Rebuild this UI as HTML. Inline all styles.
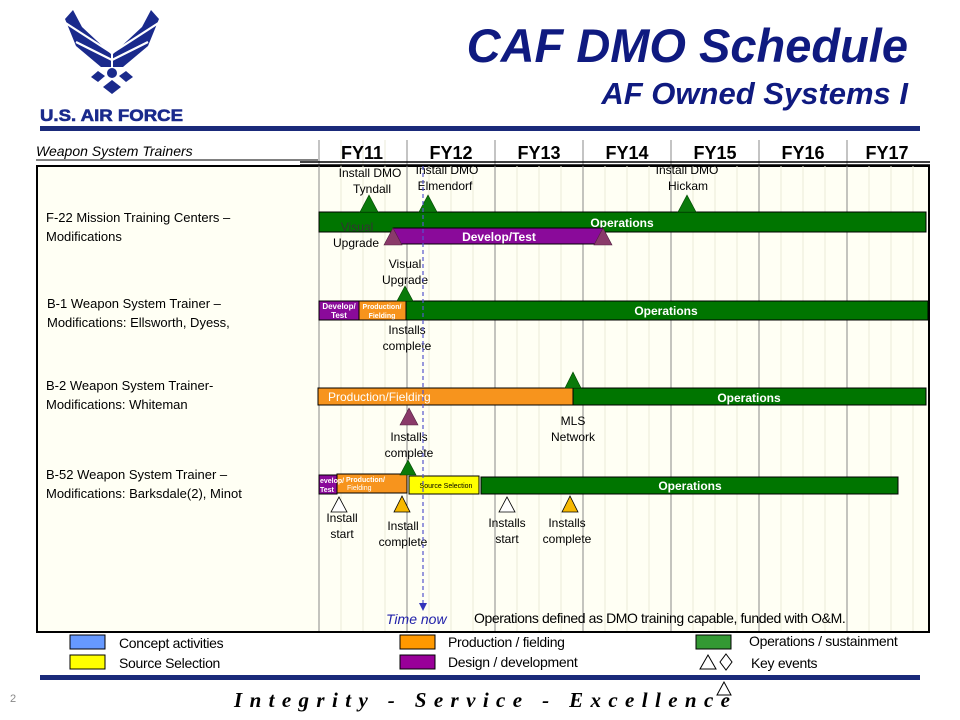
<!DOCTYPE html>
<html><head><meta charset="utf-8"><style>
html,body{margin:0;padding:0;background:#fff;}
svg{display:block;font-family:"Liberation Sans",Arial,sans-serif;}
</style></head><body>
<svg width="960" height="720" viewBox="0 0 960 720" xmlns="http://www.w3.org/2000/svg">
<rect width="960" height="720" fill="#fff"/>
<!-- logo -->
<g fill="#1a2a8c">
<polygon points="65,19 73,10 82,27 111,54 111,67 101,67 76,46"/>
<polygon points="159,19 151,10 142,27 113,54 113,67 123,67 148,46"/>
<circle cx="112" cy="73" r="5"/>
<polygon points="98,71 105,76 98,82 91,77"/>
<polygon points="126,71 133,77 126,82 119,76"/>
<polygon points="112,80 121,87 112,94 103,87"/>
</g>
<g stroke="#fff" stroke-width="2.2">
<line x1="64" y1="22" x2="112" y2="53"/><line x1="76" y1="42" x2="112" y2="60"/>
<line x1="160" y1="22" x2="112" y2="53"/><line x1="148" y1="42" x2="112" y2="60"/>
</g>
<text x="40" y="121" font-size="17" font-weight="bold" fill="#1a2a8c" stroke="#1a2a8c" stroke-width="0.6" textLength="143" lengthAdjust="spacingAndGlyphs">U.S. AIR FORCE</text>
<text x="908" y="62" text-anchor="end" font-size="47" font-weight="bold" font-style="italic" fill="#0f1a80">CAF DMO Schedule</text>
<text x="908" y="104" text-anchor="end" font-size="31" font-weight="bold" font-style="italic" fill="#0f1a80">AF Owned Systems I</text>
<rect x="40" y="126" width="880" height="5" fill="#1a2a7a"/>
<text x="36" y="156" font-size="14" font-style="italic" fill="#000">Weapon System Trainers</text>
<line x1="36" y1="160" x2="318" y2="160" stroke="#000" stroke-width="1"/>
<!-- chart box -->
<rect x="37" y="166" width="892" height="466" fill="#fffff4" stroke="#000" stroke-width="2"/>
<g stroke="#ebebd8" stroke-width="1">
<line x1="341" y1="140" x2="341" y2="631"/><line x1="363" y1="140" x2="363" y2="631"/><line x1="385" y1="140" x2="385" y2="631"/>
<line x1="429" y1="166" x2="429" y2="631"/><line x1="451" y1="166" x2="451" y2="631"/><line x1="473" y1="166" x2="473" y2="631"/>
<line x1="517" y1="166" x2="517" y2="631"/><line x1="539" y1="166" x2="539" y2="631"/><line x1="561" y1="166" x2="561" y2="631"/>
<line x1="605" y1="166" x2="605" y2="631"/><line x1="627" y1="166" x2="627" y2="631"/><line x1="649" y1="166" x2="649" y2="631"/>
<line x1="693" y1="166" x2="693" y2="631"/><line x1="715" y1="166" x2="715" y2="631"/><line x1="737" y1="166" x2="737" y2="631"/>
<line x1="781" y1="166" x2="781" y2="631"/><line x1="803" y1="166" x2="803" y2="631"/><line x1="825" y1="166" x2="825" y2="631"/>
<line x1="869" y1="166" x2="869" y2="631"/><line x1="891" y1="166" x2="891" y2="631"/><line x1="913" y1="166" x2="913" y2="631"/>
</g>
<g stroke="#888" stroke-width="1">
<line x1="319" y1="140" x2="319" y2="631"/><line x1="407" y1="140" x2="407" y2="631"/><line x1="495" y1="140" x2="495" y2="631"/>
<line x1="583" y1="140" x2="583" y2="631"/><line x1="671" y1="140" x2="671" y2="631"/><line x1="759" y1="140" x2="759" y2="631"/>
<line x1="847" y1="140" x2="847" y2="631"/>
</g>
<line x1="300" y1="162" x2="930" y2="162" stroke="#000" stroke-width="1.5"/>
<line x1="300" y1="165" x2="930" y2="165" stroke="#000" stroke-width="1.5"/>
<g font-size="18" font-weight="bold" text-anchor="middle" fill="#000">
<text x="362" y="159">FY11</text><text x="451" y="159">FY12</text><text x="539" y="159">FY13</text>
<text x="627" y="159">FY14</text><text x="715" y="159">FY15</text><text x="803" y="159">FY16</text><text x="887" y="159">FY17</text>
</g>
<!-- left labels -->
<g font-size="13" fill="#000">
<text x="46" y="222">F-22 Mission Training Centers –</text><text x="46" y="241">Modifications</text>
<text x="47" y="308">B-1 Weapon System Trainer –</text><text x="47" y="327">Modifications:  Ellsworth, Dyess,</text>
<text x="46" y="390">B-2 Weapon System Trainer-</text><text x="46" y="409">Modifications:  Whiteman</text>
<text x="46" y="479">B-52 Weapon System Trainer –</text><text x="46" y="498">Modifications:  Barksdale(2), Minot</text>
</g>
<!-- F-22 -->
<rect x="319" y="212" width="607" height="20" fill="#007500" stroke="#000" stroke-width="1"/>
<text x="622" y="227" font-size="12" font-weight="bold" fill="#fff" text-anchor="middle">Operations</text>
<rect x="393" y="228" width="210" height="16" fill="#8a0a9a" stroke="#000" stroke-width="1"/>
<text x="499" y="241" font-size="12" font-weight="bold" fill="#fff" text-anchor="middle">Develop/Test</text>
<g fill="#0a7a0a" stroke="#004400" stroke-width="0.6">
<polygon points="369,195 360,212 378,212"/><polygon points="428,195 419,212 437,212"/><polygon points="687,195 678,212 696,212"/>
</g>
<g fill="#8a3a6a" stroke="#502040" stroke-width="0.6">
<polygon points="393,228 384,245 402,245"/><polygon points="603,228 594,245 612,245"/>
</g>
<g font-size="12" fill="#000" text-anchor="middle">
<text x="370" y="177">Install DMO</text><text x="372" y="193">Tyndall</text>
<text x="447" y="174">Install DMO</text><text x="445" y="190">Elmendorf</text>
<text x="687" y="174">Install DMO</text><text x="688" y="190">Hickam</text>
<text x="357" y="231" fill="#333">Visual</text><text x="356" y="247">Upgrade</text>
<text x="405" y="268">Visual</text><text x="405" y="284">Upgrade</text>
<text x="407" y="334">Installs</text><text x="407" y="350">complete</text>
<text x="573" y="425">MLS</text><text x="573" y="441">Network</text>
<text x="409" y="441">Installs</text><text x="409" y="457">complete</text>
<text x="342" y="522">Install</text><text x="342" y="538">start</text>
<text x="403" y="530">Install</text><text x="403" y="546">complete</text>
<text x="507" y="527">Installs</text><text x="507" y="543">start</text>
<text x="567" y="527">Installs</text><text x="567" y="543">complete</text>
</g>
<!-- B-1 -->
<rect x="319" y="301" width="40" height="19" fill="#8a0a9a" stroke="#000" stroke-width="1"/>
<rect x="359" y="301" width="47" height="19" fill="#f7941d" stroke="#000" stroke-width="1"/>
<rect x="406" y="301" width="522" height="19" fill="#007500" stroke="#000" stroke-width="1"/>
<text x="339" y="309" font-size="8" font-weight="bold" fill="#fff" text-anchor="middle">Develop/</text>
<text x="339" y="318" font-size="8" font-weight="bold" fill="#fff" text-anchor="middle">Test</text>
<text x="382" y="309" font-size="7" font-weight="bold" fill="#fff" text-anchor="middle">Production/</text>
<text x="382" y="318" font-size="7" font-weight="bold" fill="#fff" text-anchor="middle">Fielding</text>
<text x="666" y="315" font-size="12" font-weight="bold" fill="#fff" text-anchor="middle">Operations</text>
<polygon points="405,286 397,301 413,301" fill="#0a7a0a" stroke="#004400" stroke-width="0.6"/>
<!-- B-2 -->
<rect x="318" y="388" width="255" height="17" fill="#f7941d" stroke="#000" stroke-width="1"/>
<rect x="573" y="388" width="353" height="17" fill="#007500" stroke="#000" stroke-width="1"/>
<text x="328" y="401" font-size="12" fill="#fff">Production/Fielding</text>
<text x="749" y="402" font-size="12" font-weight="bold" fill="#fff" text-anchor="middle">Operations</text>
<polygon points="573,372 565,388 581,388" fill="#0a7a0a" stroke="#004400" stroke-width="0.6"/>
<polygon points="409,408 400,425 418,425" fill="#8a3a6a" stroke="#502040" stroke-width="0.6"/>
<!-- B-52 -->
<rect x="319" y="475" width="18" height="19" fill="#8a0a9a" stroke="#000" stroke-width="1"/>
<rect x="337" y="474" width="70" height="19" fill="#f7941d" stroke="#000" stroke-width="1"/>
<rect x="409" y="476" width="70" height="18" fill="#ffff00" stroke="#000" stroke-width="1"/>
<rect x="481" y="477" width="417" height="17" fill="#007500" stroke="#000" stroke-width="1"/>
<text x="320" y="483" font-size="7" font-weight="bold" fill="#fff">evelop/</text>
<text x="320" y="492" font-size="7" font-weight="bold" fill="#fff">Test</text>
<text x="346" y="482" font-size="7" font-weight="bold" fill="#fff">Production/</text>
<text x="347" y="490" font-size="7" fill="#fff">Fielding</text>
<text x="446" y="488" font-size="7" fill="#000" text-anchor="middle">Source Selection</text>
<text x="690" y="490" font-size="12" font-weight="bold" fill="#fff" text-anchor="middle">Operations</text>
<polygon points="408,460 400,475 416,475" fill="#0a7a0a" stroke="#004400" stroke-width="0.6"/>
<polygon points="339,497 331,512 347,512" fill="#fff" stroke="#000" stroke-width="0.8"/>
<polygon points="402,496 394,512 410,512" fill="#f6b800" stroke="#000" stroke-width="0.8"/>
<polygon points="507,497 499,512 515,512" fill="#fff" stroke="#000" stroke-width="0.8"/>
<polygon points="570,496 562,512 578,512" fill="#f6b800" stroke="#000" stroke-width="0.8"/>
<!-- time now -->
<line x1="423" y1="166" x2="423" y2="603" stroke="#5555cc" stroke-width="1.2" stroke-dasharray="4,3"/>
<polygon points="419,603 427,603 423,611" fill="#3333bb"/>
<text x="386" y="624" font-size="14" font-style="italic" fill="#2222aa">Time now</text>
<text x="474" y="623" font-size="14" fill="#000" letter-spacing="-0.4">Operations defined as DMO training capable, funded with O&amp;M.</text>
<!-- legend -->
<rect x="70" y="635" width="35" height="14" fill="#6699ff" stroke="#000" stroke-width="1"/>
<rect x="70" y="655" width="35" height="14" fill="#ffff00" stroke="#000" stroke-width="1"/>
<rect x="400" y="635" width="35" height="14" fill="#ff9900" stroke="#000" stroke-width="1"/>
<rect x="400" y="655" width="35" height="14" fill="#990099" stroke="#000" stroke-width="1"/>
<rect x="696" y="635" width="35" height="14" fill="#339933" stroke="#000" stroke-width="1"/>
<g font-size="14" fill="#000" letter-spacing="-0.3">
<text x="119" y="648">Concept activities</text><text x="119" y="668">Source Selection</text>
<text x="448" y="647">Production / fielding</text><text x="448" y="667">Design / development</text>
<text x="749" y="646">Operations / sustainment</text><text x="751" y="668">Key events</text>
</g>
<polygon points="708,655 700,669 716,669" fill="none" stroke="#000" stroke-width="1"/>
<polygon points="726,654 732,662 726,670 720,662" fill="none" stroke="#000" stroke-width="1"/>
<rect x="40" y="675" width="880" height="5" fill="#1a2a7a"/>
<polygon points="724,682 717,695 731,695" fill="none" stroke="#000" stroke-width="1"/>
<text x="10" y="702" font-size="11" fill="#888">2</text>
<text x="234" y="707" font-size="21" font-style="italic" font-weight="bold" fill="#000" font-family="Liberation Serif,serif" textLength="496" lengthAdjust="spacing">Integrity - Service - Excellence</text>
</svg>
</body></html>
